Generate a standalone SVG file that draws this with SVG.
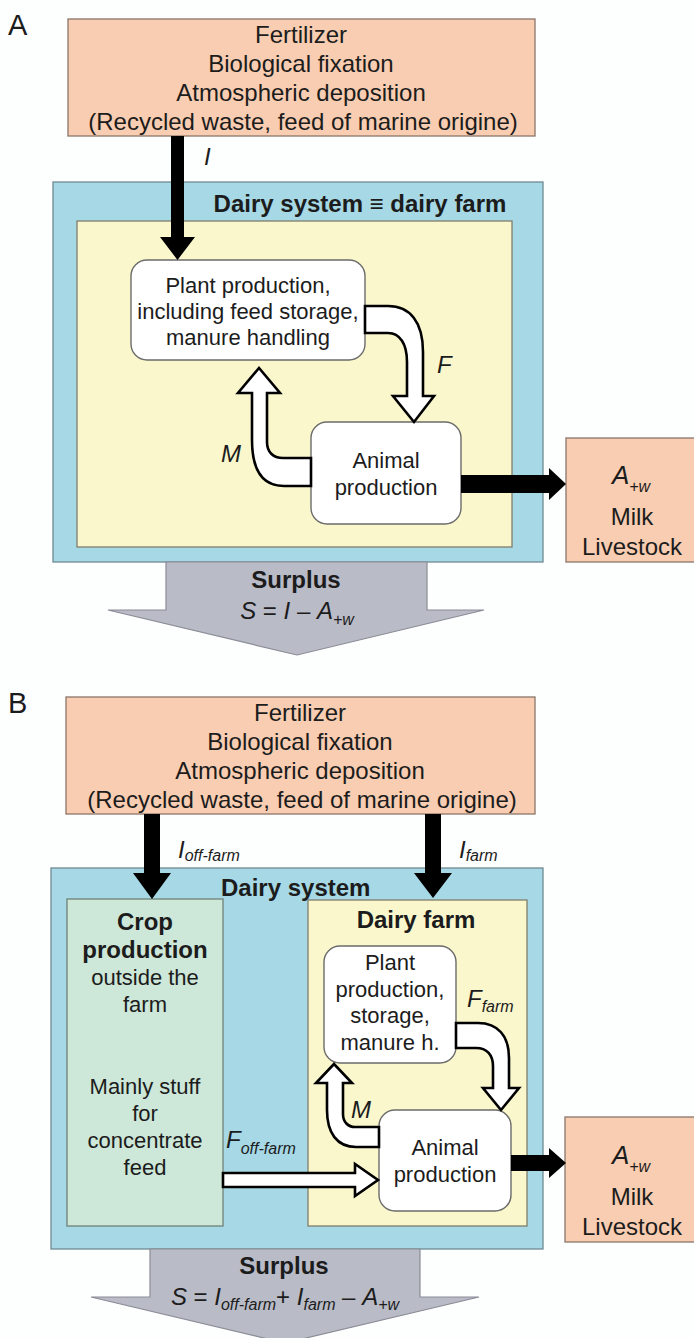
<svg xmlns="http://www.w3.org/2000/svg" width="694" height="1338" viewBox="0 0 694 1338">
<style>
text{font-family:"Liberation Sans",Arial,sans-serif;fill:#1c1c1c}
.orange{fill:#f9cdb1;stroke:#8a7568;stroke-width:1.3}
.blue{fill:#a6d8e6;stroke:#6f8a93;stroke-width:1.3}
.yellow{fill:#faf7cc;stroke:#7f7f6c;stroke-width:1.3}
.green{fill:#cde7d8;stroke:#6f8277;stroke-width:1.3}
.node{fill:#fff;stroke:#6b6b6b;stroke-width:1.4}
.hollow{fill:#fff;stroke:#000;stroke-width:2.6;stroke-linejoin:miter}
.solid{fill:#000}
.surplus{fill:#b9bbc6;stroke:#8a8c96;stroke-width:1.2}
.t24{font-size:24px;text-anchor:middle}
.t22{font-size:22px;text-anchor:middle}
.b24{font-size:24px;font-weight:bold;text-anchor:middle}
.lbl{font-size:24px;font-style:italic}
.sub{font-size:16px;font-style:italic}
.big{font-size:26px;font-style:italic}
.panel{font-size:29px}
</style>
<rect x="0" y="0" width="694" height="1338" fill="#fdfefe"/>

<!-- Panel A -->
<text class="panel" x="8" y="35">A</text>
<g id="A-inputs">
<rect class="orange" x="68" y="19" width="467" height="117"/>
<text class="t24" x="301" y="43">Fertilizer</text>
<text class="t24" x="301" y="72">Biological fixation</text>
<text class="t24" x="301" y="101">Atmospheric deposition</text>
<text class="t24" x="303" y="130">(Recycled waste, feed of marine origine)</text>
</g>
<g id="A-system">
<rect class="blue" x="53" y="182" width="490" height="380"/>
<rect class="yellow" x="77" y="221" width="435" height="326"/>
<text class="b24" x="360" y="212">Dairy system ≡ dairy farm</text>
</g>
<g id="A-plant">
<rect class="node" x="131" y="260" width="234" height="100" rx="16"/>
<text class="t22" x="248" y="293">Plant production,</text>
<text class="t22" x="248" y="319">including feed storage,</text>
<text class="t22" x="248" y="345">manure handling</text>
</g>
<g id="A-animal">
<rect class="node" x="311" y="422" width="150" height="102" rx="16"/>
<text class="t22" x="386" y="468">Animal</text>
<text class="t22" x="386" y="495">production</text>
</g>
<g id="A-outputs">
<rect class="orange" x="566" y="438" width="134" height="124"/>
<text class="t24" x="631" y="484"><tspan class="big">A</tspan><tspan class="sub" dy="8">+w</tspan></text>
<text class="t24" x="632" y="525">Milk</text>
<text class="t24" x="632" y="555">Livestock</text>
</g>
<g id="A-connectors">
<path class="solid" d="M171,136 H184 V237 H195 L177.5,260 L160,237 H171 Z"/>
<text class="lbl" x="204" y="165">I</text>
<path class="hollow" d="M365,306 H388 C410,306 423,322 423,352 V396 H434 L414,422 L393,396 H407 V362 C407,344 400,333 388,333 H365 Z"/>
<text class="lbl" x="437" y="373">F</text>
<path class="hollow" d="M311,458 H283 C273,458 267,452 267,442 V393 H280 L259,368 L238,393 H252 V440 C252,470 262,486 284,486 H311 Z"/>
<text class="lbl" x="221" y="462">M</text>
<path class="solid" d="M461,475 H549 V468 L566,484 L549,500 V493 H461 Z"/>
</g>
<g id="A-surplus">
<polygon class="surplus" points="166,562 427,562 427,610 484,610 297,655 108,610 166,610"/>
<text class="b24" x="296" y="588">Surplus</text>
<text class="t24" x="297" y="619"><tspan font-style="italic">S</tspan> = <tspan font-style="italic">I</tspan> – <tspan font-style="italic">A</tspan><tspan class="sub" dy="6">+w</tspan></text>
</g>

<!-- Panel B -->
<text class="panel" x="8" y="713">B</text>
<g id="B-inputs">
<rect class="orange" x="66" y="697" width="469" height="117"/>
<text class="t24" x="300" y="721">Fertilizer</text>
<text class="t24" x="300" y="750">Biological fixation</text>
<text class="t24" x="300" y="779">Atmospheric deposition</text>
<text class="t24" x="302" y="808">(Recycled waste, feed of marine origine)</text>
</g>
<g id="B-system">
<rect class="blue" x="51" y="868" width="492" height="381"/>
<text x="221" y="896" font-size="24" font-weight="bold">Dairy system</text>
</g>
<g id="B-crop">
<rect class="green" x="67" y="899" width="156" height="327"/>
<text class="b24" x="145" y="930">Crop</text>
<text class="b24" x="145" y="958">production</text>
<text class="t22" x="145" y="985">outside the</text>
<text class="t22" x="145" y="1012">farm</text>
<text class="t22" x="145" y="1094">Mainly stuff</text>
<text class="t22" x="145" y="1121">for</text>
<text class="t22" x="145" y="1148">concentrate</text>
<text class="t22" x="145" y="1175">feed</text>
</g>
<g id="B-farm">
<rect class="yellow" x="308" y="900" width="219" height="326"/>
<text class="b24" x="416" y="928">Dairy farm</text>
</g>
<g id="B-plant">
<rect class="node" x="324" y="946" width="132" height="117" rx="16"/>
<text class="t22" x="390" y="970">Plant</text>
<text class="t22" x="390" y="997">production,</text>
<text class="t22" x="390" y="1023">storage,</text>
<text class="t22" x="390" y="1050">manure h.</text>
</g>
<g id="B-animal">
<rect class="node" x="379" y="1110" width="132" height="101" rx="16"/>
<text class="t22" x="445" y="1155">Animal</text>
<text class="t22" x="445" y="1182">production</text>
</g>
<g id="B-outputs">
<rect class="orange" x="565" y="1117" width="135" height="125"/>
<text class="t24" x="631" y="1164"><tspan class="big">A</tspan><tspan class="sub" dy="8">+w</tspan></text>
<text class="t24" x="632" y="1205">Milk</text>
<text class="t24" x="632" y="1235">Livestock</text>
</g>
<g id="B-connectors">
<path class="solid" d="M144,814 H160 V873 H171 L152,899 L133,873 H144 Z"/>
<text class="lbl" x="178" y="858">I<tspan class="sub" dy="3">off-farm</tspan></text>
<path class="solid" d="M425,814 H441 V873 H452 L433,898 L414,873 H425 Z"/>
<text class="lbl" x="459" y="858">I<tspan class="sub" dy="3">farm</tspan></text>
<path class="hollow" d="M456,1023 H478 C498,1023 509,1036 509,1058 V1088 H519 L501,1110 L483,1088 H493 V1066 C493,1055 487,1048 476,1048 H456 Z"/>
<text class="lbl" x="467" y="1007">F<tspan class="sub" dy="5">farm</tspan></text>
<path class="hollow" d="M379,1127 H355 C348,1127 343,1122 343,1114 V1083 H352 L334,1064 L316,1083 H327 V1110 C327,1133 337,1147 356,1147 H379 Z"/>
<text class="lbl" x="351" y="1118">M</text>
<path class="hollow" d="M223,1173 H355 V1164 L378,1180 L355,1196 V1187 H223 Z"/>
<text class="lbl" x="226" y="1148">F<tspan class="sub" dy="6">off-farm</tspan></text>
<path class="solid" d="M511,1155 H549 V1148 L566,1163 L549,1178 V1171 H511 Z"/>
</g>
<g id="B-surplus">
<polygon class="surplus" points="150,1249 420,1249 420,1297 479,1297 285,1343 91,1297 150,1297"/>
<text class="b24" x="284" y="1274">Surplus</text>
<text class="t24" x="285" y="1305"><tspan font-style="italic">S</tspan> = <tspan font-style="italic">I</tspan><tspan class="sub" dy="5">off-farm</tspan><tspan dy="-5">+ </tspan><tspan font-style="italic">I</tspan><tspan class="sub" dy="5">farm</tspan><tspan dy="-5"> – </tspan><tspan font-style="italic">A</tspan><tspan class="sub" dy="5">+w</tspan></text>
</g>
</svg>
